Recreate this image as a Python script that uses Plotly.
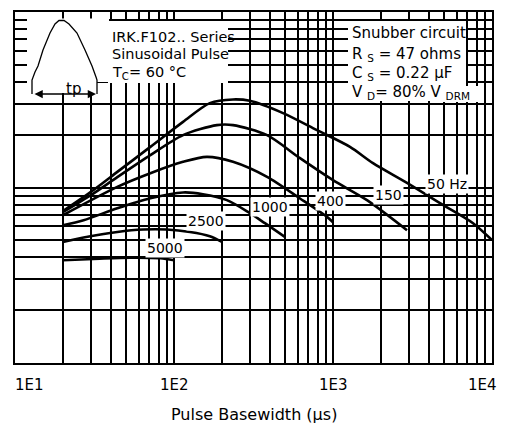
import math
import plotly.graph_objects as go

# ---- data (pulse basewidth in us, peak current in arbitrary A) ----
pw_50 = [20, 30, 44, 71, 114, 168, 235, 300, 485, 793, 1279, 1785, 2920, 4710, 7600, 10000]
ipk_50 = [73.3, 94.4, 122.7, 170.4, 236.6, 302.5, 317.5, 311.7, 265.2, 212.2, 170.4, 137.6, 106.2, 81.4, 62.6, 50.1]

pw_150 = [20, 30, 44, 71, 114, 186, 235, 385, 620, 1000, 1636, 2920]
ipk_150 = [72.3, 90.4, 114.5, 152.8, 198.7, 226.6, 226.6, 198.7, 146.9, 110.1, 84.7, 57.1]

pw_400 = [20, 44, 71, 114, 161, 235, 385, 620, 917, 1000]
ipk_400 = [69.5, 100.8, 120.6, 140.0, 149.4, 140.0, 114.9, 86.6, 68.0, 63.4]

pw_1000 = [20, 27, 44, 71, 114, 152, 215, 292, 373, 500]
ipk_1000 = [61.0, 65.1, 76.2, 86.9, 93.7, 91.6, 84.7, 72.6, 62.6, 52.1]

pw_2500 = [20, 27, 44, 64, 90, 126, 168, 200]
ipk_2500 = [49.0, 51.9, 55.8, 57.6, 57.6, 55.8, 52.8, 49.0]

pw_5000 = [20, 34, 53, 82, 100]
ipk_5000 = [38.5, 39.3, 39.8, 39.5, 38.5]

series = [
    ("50 Hz", pw_50, ipk_50),
    ("150", pw_150, ipk_150),
    ("400", pw_400, ipk_400),
    ("1000", pw_1000, ipk_1000),
    ("2500", pw_2500, ipk_2500),
    ("5000", pw_5000, ipk_5000),
]

# curve label anchor positions (data coords)
label_pos = {
    "50 Hz": (5212, 104.4),
    "150": (2218, 90.4),
    "400": (971, 83.6),
    "1000": (401, 77.2),
    "2500": (159, 64.3),
    "5000": (87.8, 45.1),
}

# x grid (log minor grid) and decade tick labels
x_tick_vals = [m * 10 ** e for e in (1, 2, 3) for m in range(1, 10)] + [10000]
x_label_vals = [10, 100, 1000, 10000]
x_label_text = ["1E1", "1E2", "1E3", "1E4"]
y_tick_vals = [m * 10 ** e for e in (1, 2) for m in range(1, 10)] + [1000]
x_title = "Pulse Basewidth (µs)"

FONT = "DejaVu Sans"
OFF = 8  # page body margin
W, H = 508 - OFF, 430 - OFF
# target plot area in window pixels: x 15..492, y 12..363
ML, MT = 15 - OFF, 12 - OFF
PW, PH = 477, 351
MR, MB = W - ML - PW, H - MT - PH


def px(x):
    return (x - 15) / PW


def py(y):
    return (363 - y) / PH


fig = go.Figure()
for name, xs, ys in series:
    fig.add_trace(go.Scatter(x=xs, y=ys, mode="lines", name=name,
                             line=dict(color="black", width=2.6, shape="spline", smoothing=0.8),
                             showlegend=False, hoverinfo="skip"))

shapes = []
# white boxes for inset and text blocks (window pixels)
for (x0, y0, x1, y1) in [(27, 18.5, 97, 93), (97, 18.5, 109, 82), (108, 21, 228, 83),
                         (348, 21, 466, 101), (440, 86, 479, 102)]:
    shapes.append(dict(type="rect", xref="paper", yref="paper", x0=px(x0), x1=px(x1),
                       y0=py(y1), y1=py(y0), fillcolor="white", line=dict(width=0), layer="above"))

# pulse icon outline (hand-read points in pixels)
pulse_pts = [(32, 94), (32, 80), (35, 72), (38, 66), (43, 50), (50, 33), (55, 24), (59, 20.5),
             (64, 20.5), (69, 24), (77, 33), (85, 50), (92, 66), (96, 77), (97, 80), (97, 94)]
path = "M " + " L ".join(f"{px(a):.5f},{py(b):.5f}" for a, b in pulse_pts)
shapes.append(dict(type="path", xref="paper", yref="paper", path=path,
                   line=dict(color="black", width=1.3), layer="above"))

annotations = []
# double-headed tp arrow
annotations.append(dict(xref="paper", yref="paper", x=px(96), y=py(94), ax=-63, ay=0,
                        text="", showarrow=True, arrowhead=2, arrowside="end+start",
                        arrowwidth=1.5, arrowcolor="black", arrowsize=1.1))
annotations.append(dict(xref="paper", yref="paper", x=px(64), y=py(78), text="tp",
                        showarrow=False, font=dict(family=FONT, size=15, color="black")))

left_lines = [("IRK.F102.. Series", 37), ("Sinusoidal Pulse", 54), ("T<sub>C</sub>= 60 °C", 73)]
for txt, yy in left_lines:
    annotations.append(dict(xref="paper", yref="paper", x=px(110), y=py(yy), xanchor="left",
                            yanchor="middle", text=txt, showarrow=False,
                            font=dict(family=FONT, size=14.5, color="black")))
right_lines = [("Snubber circuit", 33), ("R <sub>S</sub> = 47 ohms", 54),
               ("C <sub>S</sub> = 0.22 µF", 74), ("V <sub>D</sub>= 80% V <sub>DRM</sub>", 93)]
for txt, yy in right_lines:
    annotations.append(dict(xref="paper", yref="paper", x=px(350), y=py(yy), xanchor="left",
                            yanchor="middle", text=txt, showarrow=False,
                            font=dict(family=FONT, size=15, color="black")))

for name, (lx, ly) in label_pos.items():
    annotations.append(dict(x=math.log10(lx), y=math.log10(ly), xref="x", yref="y", text=name,
                            showarrow=False, bgcolor="white", borderpad=1,
                            font=dict(family=FONT, size=14, color="black")))

# decade tick labels (first one left-aligned, last one right-aligned as in the reference)
n_lab = len(x_label_vals)
for i, (v, t) in enumerate(zip(x_label_vals, x_label_text)):
    anchor = "left" if i == 0 else "right" if i == n_lab - 1 else "center"
    shift = -2 if i == 0 else 7 if i == n_lab - 1 else 0
    annotations.append(dict(x=math.log10(v), y=py(385), xref="x", yref="paper", text=t,
                            xanchor=anchor, yanchor="middle", xshift=shift, showarrow=False,
                            font=dict(family=FONT, size=15, color="black")))

# axis title
annotations.append(dict(x=0.5, y=py(414), xref="paper", yref="paper", text=x_title,
                        xanchor="center", yanchor="middle", showarrow=False,
                        font=dict(family=FONT, size=16, color="black")))

fig.update_layout(
    width=W, height=H,
    margin=dict(l=ML, r=MR, t=MT, b=MB),
    paper_bgcolor="white", plot_bgcolor="white",
    font=dict(family=FONT, size=15, color="black"),
    shapes=shapes, annotations=annotations,
)
fig.update_xaxes(type="log", range=[1, 4], tickvals=x_tick_vals, showticklabels=False,
                 showgrid=True, gridcolor="black", gridwidth=1.5, automargin=False,
                 showline=True, mirror=True, linecolor="black", linewidth=1.5,
                 ticks="", zeroline=False)
fig.update_yaxes(type="log", range=[1, 3], tickvals=y_tick_vals, showticklabels=False,
                 showgrid=True, gridcolor="black", gridwidth=1.5, automargin=False,
                 showline=True, mirror=True, linecolor="black", linewidth=1.5,
                 ticks="", zeroline=False)

fig.write_html("out.html")
